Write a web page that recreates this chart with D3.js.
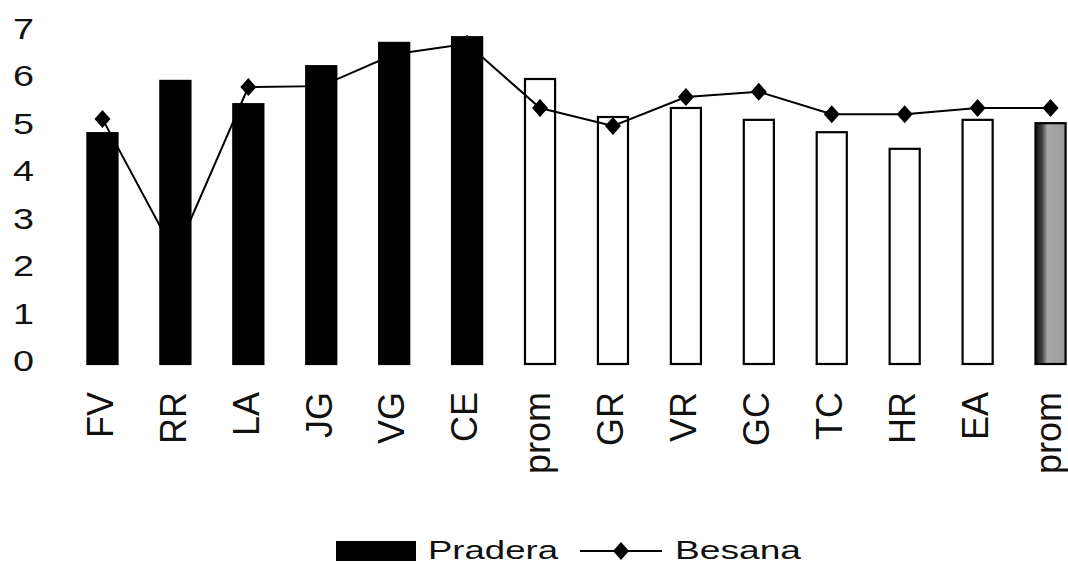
<!DOCTYPE html>
<html>
<head>
<meta charset="utf-8">
<script src="https://cdn.jsdelivr.net/npm/d3@7"></script>
<style>
    html, body { margin: 0; padding: 0; background: #fff; }
</style>
</head>
<body>
<div id="viz"></div>
<script>
    //Data
    const categories = ["FV", "RR", "LA", "JG", "VG", "CE", "prom", "GR", "VR", "GC", "TC", "HR", "EA", "prom"];
    const pradera = [4.86, 5.96, 5.47, 6.27, 6.76, 6.88, 6.0, 5.2, 5.39, 5.14, 4.88, 4.53, 5.14, 5.07];
    const besana = [5.16, 2.3, 5.83, 5.85, 6.52, 6.74, 5.39, 5.01, 5.62, 5.73, 5.26, 5.26, 5.39, 5.39];
    const yTicks = [0, 1, 2, 3, 4, 5, 6, 7];
    const legendLabels = ["Pradera", "Besana"];

    const width = 1068;
    const height = 565;
    const font = "'Liberation Sans', Arial, sans-serif";

    const svg = d3.select("#viz")
        .append("svg")
        .attr("width", width)
        .attr("height", height)
        .style("font-family", font);

    //shaded fill for the last bar
    const grad = svg.append("defs")
        .append("linearGradient")
        .attr("id", "shade")
        .attr("x1", "0%").attr("x2", "100%");
    grad.append("stop").attr("offset", "0%").attr("stop-color", "#111");
    grad.append("stop").attr("offset", "22%").attr("stop-color", "#444");
    grad.append("stop").attr("offset", "40%").attr("stop-color", "#a8a8a8");
    grad.append("stop").attr("offset", "100%").attr("stop-color", "#9a9a9a");

    const x = d3.scaleBand()
        .domain(d3.range(categories.length))
        .range([66, 1087])
        .paddingInner(0.56)
        .paddingOuter(0.28);

    const y = d3.scaleLinear()
        .domain([0, 7])
        .range([364, 31.5]);

    //y labels (no axis line, no ticks)
    svg.append("g")
        .selectAll("text")
        .data(yTicks)
        .join("text")
        .attr("x", 13)
        .attr("y", d => y(d) - 3)
        .attr("dy", "0.36em")
        .attr("font-size", 29)
        .attr("textLength", 21)
        .attr("lengthAdjust", "spacingAndGlyphs")
        .attr("fill", "#111")
        .text(d => d);

    const fillFor = i => i < 6 ? "#000" : (i == categories.length - 1 ? "url(#shade)" : "#fff");

    svg.append("g")
        .selectAll("rect")
        .data(pradera)
        .join("rect")
        .attr("x", (d, i) => x(i) + 1)
        .attr("width", x.bandwidth() - 2)
        .attr("y", d => y(d))
        .attr("height", d => y(0) - y(d))
        .attr("fill", (d, i) => fillFor(i))
        .attr("stroke", "#000")
        .attr("stroke-width", 2.2);

    //Besana line
    const line = d3.line()
        .x((d, i) => x(i) + x.bandwidth() / 2)
        .y(d => y(d));

    svg.append("path")
        .attr("d", line(besana))
        .attr("fill", "none")
        .attr("stroke", "#000")
        .attr("stroke-width", 2);

    const diamond = "M0,-9L8,0L0,9L-8,0Z";

    svg.append("g")
        .selectAll("path")
        .data(besana)
        .join("path")
        .attr("transform", (d, i) => `translate(${x(i) + x.bandwidth() / 2},${y(d)})`)
        .attr("d", diamond)
        .attr("fill", "#000");

    //x labels, rotated
    svg.append("g")
        .selectAll("text")
        .data(categories)
        .join("text")
        .attr("transform", (d, i) => `translate(${x(i) + x.bandwidth() / 2 - 2},392) rotate(-90)`)
        .attr("text-anchor", "end")
        .attr("dy", "0.34em")
        .attr("font-size", 36)
        .attr("fill", "#111")
        .text(d => d);

    //legend
    const legend = svg.append("g");
    legend.append("rect")
        .attr("x", 336).attr("y", 541)
        .attr("width", 80).attr("height", 20)
        .attr("fill", "#000");
    legend.append("text")
        .attr("x", 428).attr("y", 559)
        .attr("font-size", 25)
        .attr("textLength", 130)
        .attr("lengthAdjust", "spacingAndGlyphs")
        .attr("fill", "#111")
        .text(legendLabels[0]);
    legend.append("line")
        .attr("x1", 580).attr("x2", 662)
        .attr("y1", 551).attr("y2", 551)
        .attr("stroke", "#000")
        .attr("stroke-width", 2);
    legend.append("path")
        .attr("transform", "translate(621,551)")
        .attr("d", diamond)
        .attr("fill", "#000");
    legend.append("text")
        .attr("x", 675).attr("y", 559)
        .attr("font-size", 25)
        .attr("textLength", 126)
        .attr("lengthAdjust", "spacingAndGlyphs")
        .attr("fill", "#111")
        .text(legendLabels[1]);
</script>
</body>
</html>
